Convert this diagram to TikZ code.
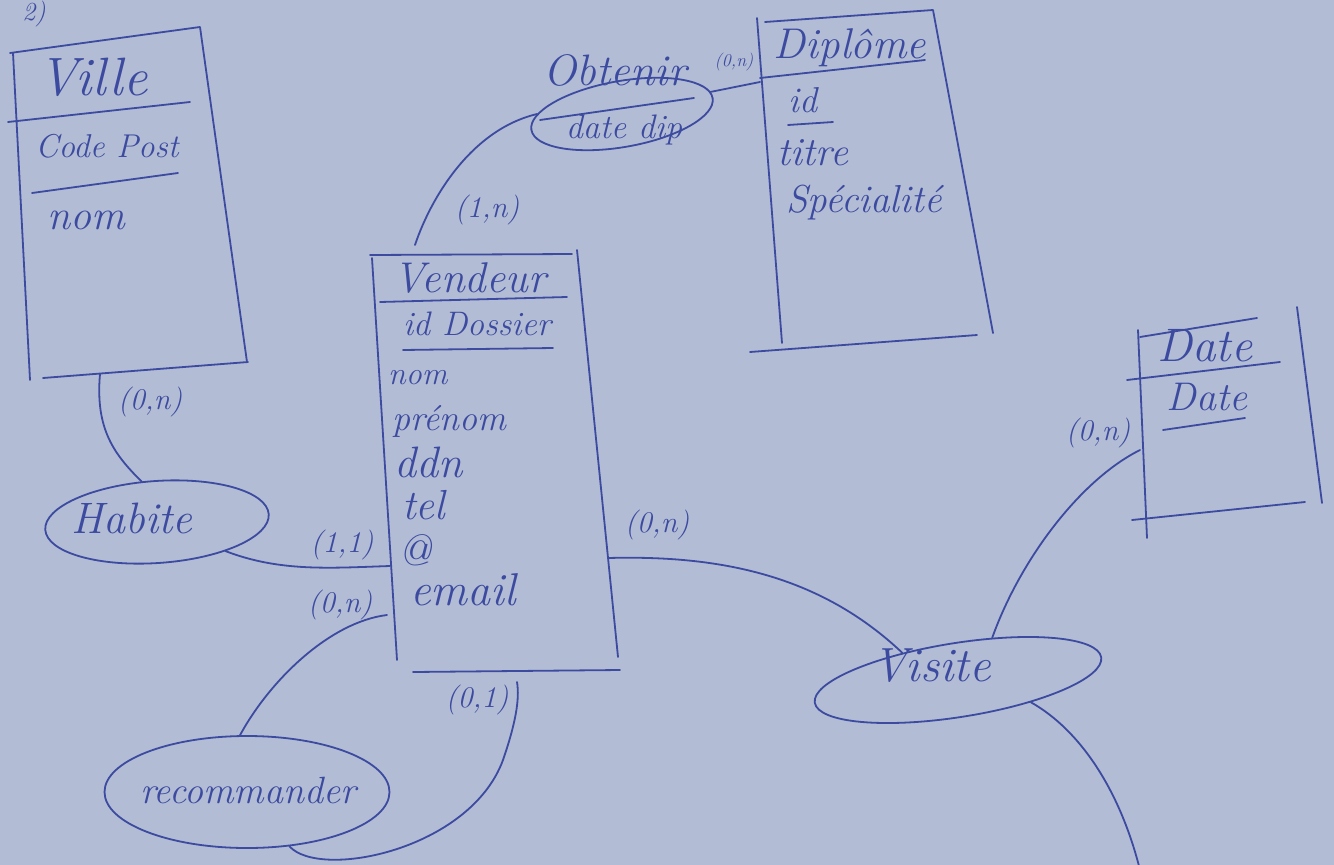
\documentclass[tikz,border=0pt]{standalone}
\usepackage{fontspec}
\usetikzlibrary{shapes.geometric}
\definecolor{paper}{RGB}{178,188,213}
\definecolor{ink}{RGB}{60,74,160}
\begin{document}
\begin{tikzpicture}[x=1pt,y=-1pt,
  pen/.style={draw=ink, line width=1.8pt, line cap=round, line join=round},
  hw/.style={font=\fontsize{#1}{#1}\selectfont\itshape, text=ink, inner sep=0pt},
  card/.style={font=\fontsize{30}{30}\selectfont\itshape, text=ink, inner sep=0pt},
  rel/.style={ellipse, draw=ink, line width=1.8pt, inner sep=0pt},
  link/.style={pen}]
\fill[paper] (0,0) rectangle (1334,865);
\useasboundingbox (0,0) rectangle (1334,865);

% fragment top-left
\node[hw=26] (partnum) at (34,14) {2)};

% ---------------- Ville
\draw[pen] (10,53) -- (200,27) -- (247,362);
\draw[pen] (13,53) -- (30,380);
\draw[pen] (43,378) -- (248,362);
\draw[pen] (8,122) -- (190,102);
\draw[pen] (32,193) -- (178,173);
\node[hw=54] (villeT) at (93,77) {Ville};
\node[hw=33] (villeK) at (107,146) {Code Post};
\node[hw=42] (villeA) at (86,220) {nom};
\coordinate (villeB) at (100,374);

% ---------------- Diplome
\draw[pen] (757,18) -- (782,343);
\draw[pen] (765,22) -- (933,10) -- (993,333);
\draw[pen] (750,352) -- (977,335);
\draw[pen] (760,78) -- (925,60);
\draw[pen] (788,125) -- (833,122);
\node[hw=43] (diplT) at (850,48) {Diplôme};
\node[hw=36] (diplA1) at (803,100) {id};
\node[hw=40] (diplA2) at (813,153) {titre};
\node[hw=39] (diplA3) at (864,203) {Spécialité};
\coordinate (diplL) at (760,82);

% ---------------- Vendeur
\draw[pen] (370,255) -- (572,254);
\draw[pen] (372,258) -- (397,660);
\draw[pen] (577,250) -- (618,657);
\draw[pen] (413,672) -- (620,670);
\draw[pen] (380,302) -- (567,297);
\draw[pen] (403,350) -- (553,348);
\node[hw=43] (vendT) at (470,278) {Vendeur};
\node[hw=34] (vendK) at (477,324) {id Dossier};
\node[hw=32, anchor=west] (vendA1) at (388,378) {nom};
\node[hw=36, anchor=west] (vendA2) at (392,421) {prénom};
\node[hw=44, anchor=west] (vendA3) at (394,462) {ddn};
\node[hw=42, anchor=west] (vendA4) at (402,505) {tel};
\node[hw=44, anchor=west] (vendA5) at (398,550) {@};
\node[hw=46, anchor=west] (vendA6) at (410,590) {email};
\coordinate (vendTop) at (415,245);
\coordinate (vendL1) at (390,566);
\coordinate (vendL2) at (387,615);
\coordinate (vendR) at (608,558);
\coordinate (vendB) at (517,682);

% ---------------- Date
\draw[pen] (1138,330) -- (1147,538);
\draw[pen] (1297,307) -- (1322,503);
\draw[pen] (1140,337) -- (1257,318);
\draw[pen] (1127,380) -- (1280,362);
\draw[pen] (1132,520) -- (1305,502);
\draw[pen] (1163,430) -- (1245,418);
\node[hw=47] (dateT) at (1205,346) {Date};
\node[hw=40] (dateA) at (1207,397) {Date};
\coordinate (dateL) at (1140,450);

% ---------------- relations
\node[rel, minimum width=184pt, minimum height=66pt, rotate=10] (obtenir) at (622,114) {};
\draw[pen] (540,120) -- (694,98);
\node[hw=44] (obtenirT) at (615,70) {Obtenir};
\node[hw=34] (obtenirA) at (624,130) {date dip};

\node[rel, minimum width=224pt, minimum height=82pt, rotate=4] (habite) at (157,522) {};
\node[hw=44] (habiteT) at (132,518) {Habite};

\node[rel, minimum width=285pt, minimum height=112pt] (recomm) at (247,792) {};
\node[hw=38] (recommT) at (248,790) {recommander};

\node[rel, minimum width=290pt, minimum height=74pt, rotate=9] (visite) at (958,680) {};
\node[hw=48] (visiteT) at (932,666) {Visite};

% ---------------- connectors
\draw[link] (villeB) .. controls (95,430) and (115,455) .. (habite.107);
\draw[link] (habite.-27) .. controls (280,572) and (330,568) .. (vendL1);
\draw[link] (recomm.97) .. controls (270,680) and (330,622) .. (vendL2);
\draw[link] (recomm.-52) .. controls (320,880) and (470,850) .. (503,760)
   .. controls (515,725) and (520,700) .. (vendB);
\draw[link] (obtenir.170) .. controls (470,130) and (430,200) .. (vendTop);
\draw[link] (obtenir.4) -- (diplL);
\draw[link] (vendR) .. controls (720,555) and (820,575) .. (visite.145);
\draw[link] (visite.42) .. controls (1020,560) and (1080,480) .. (dateL);
\coordinate (offB) at (1140,870);
\draw[link] (visite.-26) .. controls (1080,730) and (1120,790) .. (offB);

% ---------------- cardinalities
\node[card] (cVille) at (150,402) {(0,n)};
\node[card] (cVendObt) at (487,210) {(1,n)};
\node[font=\fontsize{18}{18}\selectfont\itshape, text=ink, inner sep=0pt] (cDipl) at (734,62) {(0,n)};
\node[card] (cVendHab) at (342,545) {(1,1)};
\node[card] (cVendRec1) at (340,605) {(0,n)};
\node[card] (cVendRec2) at (477,700) {(0,1)};
\node[card] (cVendVis) at (657,525) {(0,n)};
\node[card] (cDate) at (1098,433) {(0,n)};
\end{tikzpicture}
\end{document}
